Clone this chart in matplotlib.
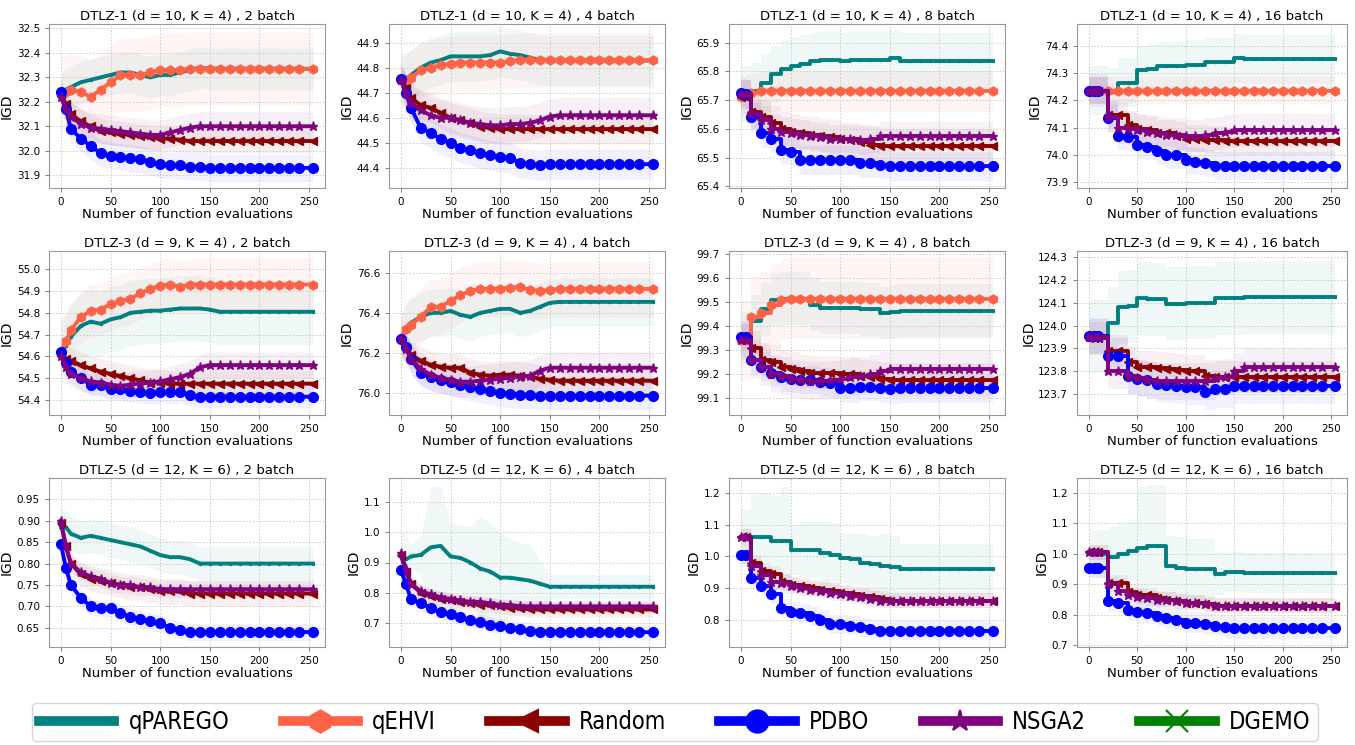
import matplotlib.pyplot as plt
from matplotlib.lines import Line2D
from matplotlib.ticker import FormatStrFormatter
import numpy as np

# x grid (number of function evaluations)
EVALS = [0, 5, 10, 20, 30, 40, 50, 60, 70, 80, 90, 100, 110, 120, 130,
         140, 150, 160, 170, 180, 190, 200, 210, 220, 230, 240, 254]

METHODS = ['qPAREGO', 'qEHVI', 'Random', 'PDBO', 'NSGA2', 'DGEMO']
COLORS = {'qPAREGO': '#008080', 'qEHVI': '#FF6347', 'Random': '#8B0000',
          'PDBO': '#0000FF', 'NSGA2': '#800080', 'DGEMO': '#008000'}
MARKERS = {'qPAREGO': '.', 'qEHVI': 'h', 'Random': '<', 'PDBO': 'o',
           'NSGA2': '*', 'DGEMO': 'x'}

# ---- DTLZ-1 (d = 10, K = 4) ----
DTLZ1_B2 = dict(
    qPAREGO=[32.23, 32.25, 32.26, 32.28, 32.29, 32.30, 32.31, 32.32, 32.32, 32.31, 32.30, 32.31, 32.31, 32.32,
             32.33, 32.34, 32.335, 32.335, 32.335, 32.335, 32.335, 32.335, 32.335, 32.335, 32.335, 32.335, 32.335],
    qEHVI=[32.23, 32.24, 32.25, 32.24, 32.22, 32.25, 32.28, 32.31, 32.31, 32.31, 32.32, 32.33, 32.33, 32.33,
           32.335, 32.335, 32.335, 32.335, 32.335, 32.335, 32.335, 32.335, 32.335, 32.335, 32.335, 32.335, 32.335],
    Random=[32.23, 32.19, 32.15, 32.12, 32.10, 32.08, 32.075, 32.07, 32.065, 32.06, 32.055, 32.05, 32.05, 32.045,
            32.04, 32.04, 32.04, 32.04, 32.04, 32.04, 32.04, 32.04, 32.04, 32.04, 32.04, 32.04, 32.04],
    PDBO=[32.24, 32.17, 32.09, 32.05, 32.02, 31.99, 31.98, 31.975, 31.97, 31.965, 31.955, 31.945, 31.94, 31.94,
          31.935, 31.935, 31.93, 31.93, 31.93, 31.93, 31.93, 31.93, 31.93, 31.93, 31.93, 31.93, 31.93],
    NSGA2=[32.22, 32.17, 32.14, 32.11, 32.095, 32.09, 32.085, 32.08, 32.075, 32.07, 32.065, 32.065, 32.075, 32.085,
           32.095, 32.10, 32.10, 32.10, 32.10, 32.10, 32.10, 32.10, 32.10, 32.10, 32.10, 32.10, 32.10],
)
DTLZ1_B2_STD = dict(qPAREGO=0.085, qEHVI=0.15, Random=0.05, PDBO=0.055, NSGA2=0.06)

DTLZ1_B4 = dict(
    qPAREGO=[44.75, 44.75, 44.77, 44.80, 44.82, 44.83, 44.845, 44.845, 44.845, 44.845, 44.85, 44.865, 44.855, 44.85,
             44.84, 44.83, 44.828, 44.828, 44.828, 44.828, 44.828, 44.828, 44.828, 44.828, 44.828, 44.828, 44.828],
    qEHVI=[44.75, 44.75, 44.76, 44.79, 44.80, 44.81, 44.815, 44.82, 44.82, 44.82, 44.82, 44.82, 44.825, 44.83,
           44.83, 44.83, 44.83, 44.83, 44.83, 44.83, 44.83, 44.83, 44.83, 44.83, 44.83, 44.83, 44.83],
    Random=[44.75, 44.72, 44.68, 44.65, 44.64, 44.62, 44.60, 44.59, 44.58, 44.565, 44.56, 44.555, 44.555, 44.555,
            44.555, 44.555, 44.555, 44.555, 44.555, 44.555, 44.555, 44.555, 44.555, 44.555, 44.555, 44.555, 44.555],
    PDBO=[44.755, 44.70, 44.64, 44.56, 44.54, 44.515, 44.50, 44.48, 44.47, 44.46, 44.45, 44.445, 44.44, 44.42,
          44.415, 44.41, 44.415, 44.415, 44.415, 44.415, 44.415, 44.415, 44.415, 44.415, 44.415, 44.415, 44.415],
    NSGA2=[44.75, 44.70, 44.66, 44.63, 44.61, 44.60, 44.60, 44.59, 44.58, 44.575, 44.57, 44.57, 44.575, 44.575,
           44.58, 44.59, 44.605, 44.61, 44.61, 44.61, 44.61, 44.61, 44.61, 44.61, 44.61, 44.61, 44.61],
)
DTLZ1_B4_STD = dict(qPAREGO=0.10, qEHVI=0.11, Random=0.06, PDBO=0.06, NSGA2=0.07)

DTLZ1_B8 = dict(
    qPAREGO=[65.72, 65.72, 65.73, 65.76, 65.79, 65.81, 65.82, 65.825, 65.835, 65.84, 65.84, 65.835, 65.84, 65.84,
             65.84, 65.84, 65.845, 65.835, 65.835, 65.835, 65.835, 65.835, 65.835, 65.835, 65.835, 65.835, 65.835],
    qEHVI=[65.71, 65.72, 65.725, 65.73, 65.73, 65.73, 65.73, 65.73, 65.73, 65.73, 65.73, 65.73, 65.73, 65.73,
           65.73, 65.73, 65.73, 65.73, 65.73, 65.73, 65.73, 65.73, 65.73, 65.73, 65.73, 65.73, 65.73],
    Random=[65.71, 65.71, 65.66, 65.64, 65.62, 65.60, 65.59, 65.585, 65.58, 65.575, 65.57, 65.565, 65.56, 65.555,
            65.545, 65.54, 65.54, 65.54, 65.54, 65.54, 65.54, 65.54, 65.54, 65.54, 65.54, 65.54, 65.54],
    PDBO=[65.725, 65.72, 65.64, 65.585, 65.565, 65.525, 65.52, 65.49, 65.49, 65.49, 65.49, 65.49, 65.49, 65.48,
          65.48, 65.475, 65.47, 65.47, 65.47, 65.47, 65.47, 65.47, 65.47, 65.47, 65.47, 65.47, 65.47],
    NSGA2=[65.72, 65.72, 65.65, 65.63, 65.60, 65.59, 65.585, 65.58, 65.575, 65.57, 65.565, 65.565, 65.565, 65.56,
           65.565, 65.575, 65.575, 65.575, 65.575, 65.575, 65.575, 65.575, 65.575, 65.575, 65.575, 65.575, 65.575],
)
DTLZ1_B8_STD = dict(qPAREGO=0.10, qEHVI=0.07, Random=0.06, PDBO=0.05, NSGA2=0.05)

DTLZ1_B16 = dict(
    qPAREGO=[74.235, 74.235, 74.235, 74.23, 74.265, 74.265, 74.31, 74.315, 74.325, 74.325, 74.325, 74.33, 74.33,
             74.34, 74.34, 74.34, 74.355, 74.35, 74.35, 74.35, 74.35, 74.35, 74.35, 74.35, 74.35, 74.35, 74.35],
    qEHVI=[74.235, 74.235, 74.235, 74.235, 74.235, 74.235, 74.235, 74.235, 74.235, 74.235, 74.235, 74.235, 74.235,
           74.235, 74.235, 74.235, 74.235, 74.235, 74.235, 74.235, 74.235, 74.235, 74.235, 74.235, 74.235, 74.235,
           74.235],
    Random=[74.235, 74.235, 74.235, 74.145, 74.145, 74.11, 74.095, 74.09, 74.08, 74.08, 74.07, 74.06, 74.06, 74.055,
            74.055, 74.05, 74.05, 74.05, 74.05, 74.05, 74.05, 74.05, 74.05, 74.05, 74.05, 74.05, 74.05],
    PDBO=[74.235, 74.235, 74.235, 74.135, 74.07, 74.065, 74.035, 74.03, 74.015, 74.00, 74.00, 73.98, 73.975, 73.97,
          73.96, 73.96, 73.96, 73.96, 73.96, 73.96, 73.96, 73.96, 73.96, 73.96, 73.96, 73.96, 73.96],
    NSGA2=[74.235, 74.235, 74.235, 74.14, 74.10, 74.095, 74.09, 74.085, 74.08, 74.075, 74.075, 74.07, 74.07, 74.075,
           74.08, 74.085, 74.09, 74.09, 74.09, 74.09, 74.09, 74.09, 74.09, 74.09, 74.09, 74.09, 74.09],
)
DTLZ1_B16_STD = dict(qPAREGO=0.09, qEHVI=0.05, Random=0.05, PDBO=0.05, NSGA2=0.06)

# ---- DTLZ-3 (d = 9, K = 4) ----
DTLZ3_B2 = dict(
    qPAREGO=[54.62, 54.65, 54.69, 54.74, 54.76, 54.75, 54.77, 54.78, 54.80, 54.805, 54.81, 54.81, 54.815, 54.82,
             54.82, 54.82, 54.815, 54.805, 54.805, 54.805, 54.805, 54.805, 54.805, 54.805, 54.805, 54.805, 54.805],
    qEHVI=[54.62, 54.67, 54.72, 54.78, 54.81, 54.815, 54.84, 54.855, 54.865, 54.89, 54.91, 54.925, 54.93, 54.92,
           54.93, 54.93, 54.93, 54.93, 54.93, 54.93, 54.93, 54.93, 54.93, 54.93, 54.93, 54.93, 54.93],
    Random=[54.60, 54.59, 54.58, 54.56, 54.545, 54.53, 54.52, 54.51, 54.50, 54.49, 54.48, 54.48, 54.475, 54.475,
            54.475, 54.475, 54.475, 54.475, 54.475, 54.475, 54.475, 54.475, 54.475, 54.475, 54.475, 54.475, 54.475],
    PDBO=[54.62, 54.57, 54.53, 54.50, 54.47, 54.47, 54.45, 54.45, 54.44, 54.435, 54.43, 54.435, 54.435, 54.435,
          54.425, 54.415, 54.415, 54.415, 54.415, 54.415, 54.415, 54.415, 54.415, 54.415, 54.415, 54.415, 54.415],
    NSGA2=[54.60, 54.55, 54.52, 54.50, 54.485, 54.48, 54.47, 54.465, 54.47, 54.475, 54.48, 54.485, 54.495, 54.505,
           54.52, 54.55, 54.56, 54.56, 54.56, 54.56, 54.56, 54.56, 54.56, 54.56, 54.56, 54.56, 54.56],
)
DTLZ3_B2_STD = dict(qPAREGO=0.15, qEHVI=0.12, Random=0.06, PDBO=0.05, NSGA2=0.06)

DTLZ3_B4 = dict(
    qPAREGO=[76.27, 76.32, 76.35, 76.38, 76.40, 76.40, 76.41, 76.39, 76.38, 76.40, 76.41, 76.42, 76.42, 76.40,
             76.41, 76.43, 76.45, 76.455, 76.455, 76.455, 76.455, 76.455, 76.455, 76.455, 76.455, 76.455, 76.455],
    qEHVI=[76.27, 76.32, 76.34, 76.38, 76.43, 76.43, 76.46, 76.49, 76.51, 76.52, 76.52, 76.52, 76.525, 76.53,
           76.515, 76.51, 76.515, 76.52, 76.52, 76.52, 76.52, 76.52, 76.52, 76.52, 76.52, 76.52, 76.52],
    Random=[76.26, 76.22, 76.19, 76.16, 76.14, 76.13, 76.125, 76.125, 76.10, 76.09, 76.085, 76.09, 76.09, 76.085,
            76.08, 76.07, 76.065, 76.06, 76.06, 76.06, 76.06, 76.06, 76.06, 76.06, 76.06, 76.06, 76.06],
    PDBO=[76.27, 76.23, 76.17, 76.10, 76.08, 76.065, 76.055, 76.04, 76.03, 76.02, 76.01, 76.00, 75.995, 75.99,
          75.99, 75.985, 75.985, 75.985, 75.985, 75.985, 75.985, 75.985, 75.985, 75.985, 75.985, 75.985, 75.985],
    NSGA2=[76.27, 76.22, 76.17, 76.12, 76.09, 76.075, 76.065, 76.055, 76.055, 76.06, 76.065, 76.07, 76.075, 76.08,
           76.085, 76.11, 76.125, 76.125, 76.125, 76.125, 76.125, 76.125, 76.125, 76.125, 76.125, 76.125, 76.125],
)
DTLZ3_B4_STD = dict(qPAREGO=0.12, qEHVI=0.14, Random=0.07, PDBO=0.07, NSGA2=0.08)

DTLZ3_B8 = dict(
    qPAREGO=[99.35, 99.35, 99.42, 99.47, 99.51, 99.515, 99.515, 99.515, 99.49, 99.475, 99.475, 99.475, 99.475,
             99.47, 99.47, 99.455, 99.46, 99.465, 99.465, 99.465, 99.465, 99.465, 99.465, 99.465, 99.465, 99.465,
             99.465],
    qEHVI=[99.34, 99.34, 99.44, 99.455, 99.49, 99.51, 99.515, 99.515, 99.515, 99.515, 99.515, 99.515, 99.515,
           99.515, 99.515, 99.515, 99.515, 99.515, 99.515, 99.515, 99.515, 99.515, 99.515, 99.515, 99.515, 99.515,
           99.515],
    Random=[99.34, 99.34, 99.31, 99.26, 99.25, 99.23, 99.22, 99.21, 99.205, 99.205, 99.205, 99.20, 99.20, 99.19,
            99.185, 99.18, 99.175, 99.175, 99.175, 99.175, 99.175, 99.175, 99.175, 99.175, 99.175, 99.175, 99.175],
    PDBO=[99.355, 99.355, 99.26, 99.23, 99.205, 99.185, 99.18, 99.175, 99.175, 99.165, 99.16, 99.14, 99.14, 99.145,
          99.145, 99.14, 99.135, 99.14, 99.14, 99.14, 99.14, 99.14, 99.14, 99.14, 99.14, 99.14, 99.14],
    NSGA2=[99.34, 99.34, 99.26, 99.23, 99.20, 99.19, 99.18, 99.175, 99.17, 99.17, 99.175, 99.18, 99.185, 99.19,
           99.20, 99.21, 99.22, 99.22, 99.22, 99.22, 99.22, 99.22, 99.22, 99.22, 99.22, 99.22, 99.22],
)
DTLZ3_B8_STD = dict(qPAREGO=0.11, qEHVI=0.17, Random=0.07, PDBO=0.06, NSGA2=0.08)

DTLZ3_B16 = dict(
    qPAREGO=[123.95, 123.95, 123.95, 124.01, 124.08, 124.085, 124.12, 124.115, 124.115, 124.095, 124.095, 124.10,
             124.10, 124.10, 124.12, 124.12, 124.12, 124.125, 124.125, 124.125, 124.125, 124.125, 124.125, 124.125,
             124.125, 124.125, 124.125],
    Random=[123.945, 123.945, 123.945, 123.89, 123.89, 123.84, 123.82, 123.82, 123.815, 123.81, 123.805, 123.80,
            123.80, 123.78, 123.775, 123.775, 123.775, 123.775, 123.775, 123.775, 123.775, 123.775, 123.775, 123.775,
            123.775, 123.775, 123.775],
    PDBO=[123.955, 123.955, 123.955, 123.865, 123.865, 123.78, 123.765, 123.76, 123.745, 123.74, 123.735, 123.73,
          123.73, 123.71, 123.72, 123.72, 123.735, 123.735, 123.735, 123.735, 123.735, 123.735, 123.735, 123.735,
          123.735, 123.735, 123.735],
    NSGA2=[123.95, 123.95, 123.95, 123.80, 123.80, 123.78, 123.77, 123.76, 123.755, 123.755, 123.755, 123.755,
           123.755, 123.755, 123.77, 123.775, 123.80, 123.82, 123.82, 123.82, 123.82, 123.82, 123.82, 123.82, 123.82,
           123.82, 123.82],
)
DTLZ3_B16_STD = dict(qPAREGO=0.16, Random=0.07, PDBO=0.08, NSGA2=0.08)

# ---- DTLZ-5 (d = 12, K = 6) ----
DTLZ5_B2 = dict(
    qPAREGO=[0.885, 0.885, 0.87, 0.86, 0.865, 0.86, 0.855, 0.85, 0.845, 0.84, 0.83, 0.82, 0.815, 0.815, 0.81,
             0.80, 0.80, 0.80, 0.80, 0.80, 0.80, 0.80, 0.80, 0.80, 0.80, 0.80, 0.80],
    Random=[0.895, 0.84, 0.80, 0.775, 0.765, 0.76, 0.755, 0.75, 0.745, 0.745, 0.74, 0.735, 0.735, 0.735, 0.73,
            0.73, 0.73, 0.73, 0.73, 0.73, 0.73, 0.73, 0.73, 0.73, 0.73, 0.73, 0.73],
    PDBO=[0.845, 0.79, 0.75, 0.72, 0.70, 0.695, 0.695, 0.685, 0.675, 0.67, 0.665, 0.66, 0.65, 0.645, 0.64,
          0.64, 0.64, 0.64, 0.64, 0.64, 0.64, 0.64, 0.64, 0.64, 0.64, 0.64, 0.64],
    NSGA2=[0.90, 0.84, 0.80, 0.78, 0.77, 0.765, 0.755, 0.75, 0.75, 0.745, 0.745, 0.74, 0.74, 0.74, 0.74,
           0.74, 0.74, 0.74, 0.74, 0.74, 0.74, 0.74, 0.74, 0.74, 0.74, 0.74, 0.74],
)
DTLZ5_B2_STD = dict(qPAREGO=0.04, Random=0.03, PDBO=0.02, NSGA2=0.02)

DTLZ5_B4 = dict(
    qPAREGO=[0.92, 0.91, 0.92, 0.925, 0.95, 0.955, 0.92, 0.915, 0.90, 0.88, 0.87, 0.85, 0.85, 0.845, 0.84,
             0.83, 0.82, 0.82, 0.82, 0.82, 0.82, 0.82, 0.82, 0.82, 0.82, 0.82, 0.82],
    Random=[0.925, 0.87, 0.83, 0.80, 0.79, 0.78, 0.775, 0.77, 0.765, 0.76, 0.76, 0.755, 0.75, 0.75, 0.745,
            0.745, 0.745, 0.745, 0.745, 0.745, 0.745, 0.745, 0.745, 0.745, 0.745, 0.745, 0.745],
    PDBO=[0.875, 0.83, 0.78, 0.765, 0.75, 0.735, 0.73, 0.72, 0.71, 0.705, 0.695, 0.69, 0.685, 0.68, 0.675,
          0.67, 0.67, 0.67, 0.67, 0.67, 0.67, 0.67, 0.67, 0.67, 0.67, 0.67, 0.67],
    NSGA2=[0.93, 0.88, 0.83, 0.805, 0.795, 0.785, 0.78, 0.775, 0.77, 0.77, 0.765, 0.76, 0.76, 0.755, 0.755,
           0.755, 0.755, 0.755, 0.755, 0.755, 0.755, 0.755, 0.755, 0.755, 0.755, 0.755, 0.755],
)
DTLZ5_B4_STD = dict(
    qPAREGO=[0.08, 0.08, 0.04, 0.06, 0.20, 0.20, 0.11, 0.11, 0.12, 0.17, 0.16, 0.15, 0.13, 0.12, 0.12,
             0.08, 0.04, 0.04, 0.04, 0.04, 0.04, 0.04, 0.04, 0.04, 0.04, 0.04, 0.04],
    Random=0.025, PDBO=0.025, NSGA2=0.02)

DTLZ5_B8 = dict(
    qPAREGO=[1.06, 1.06, 1.06, 1.06, 1.05, 1.05, 1.02, 1.02, 1.02, 1.01, 1.005, 0.995, 0.99, 0.98, 0.975,
             0.97, 0.965, 0.96, 0.96, 0.96, 0.96, 0.96, 0.96, 0.96, 0.96, 0.96, 0.96],
    Random=[1.06, 1.06, 0.98, 0.955, 0.945, 0.92, 0.91, 0.905, 0.90, 0.895, 0.89, 0.885, 0.88, 0.875, 0.87,
            0.865, 0.86, 0.86, 0.86, 0.86, 0.86, 0.86, 0.86, 0.86, 0.86, 0.86, 0.86],
    PDBO=[1.005, 1.005, 0.93, 0.905, 0.88, 0.835, 0.825, 0.82, 0.81, 0.80, 0.785, 0.785, 0.78, 0.775, 0.77,
          0.765, 0.765, 0.765, 0.765, 0.765, 0.765, 0.765, 0.765, 0.765, 0.765, 0.765, 0.765],
    NSGA2=[1.06, 1.06, 0.97, 0.94, 0.92, 0.915, 0.905, 0.90, 0.895, 0.89, 0.885, 0.88, 0.875, 0.87, 0.865,
           0.86, 0.86, 0.86, 0.86, 0.86, 0.86, 0.86, 0.86, 0.86, 0.86, 0.86, 0.86],
)
DTLZ5_B8_STD = dict(
    qPAREGO=[0.09, 0.09, 0.14, 0.14, 0.14, 0.17, 0.08, 0.09, 0.09, 0.10, 0.10, 0.08, 0.08, 0.09, 0.09,
             0.10, 0.10, 0.08, 0.08, 0.08, 0.08, 0.08, 0.08, 0.08, 0.08, 0.08, 0.08],
    Random=0.025, PDBO=0.03, NSGA2=0.025)

DTLZ5_B16 = dict(
    qPAREGO=[1.0, 1.0, 1.0, 0.99, 1.0, 1.01, 1.02, 1.025, 1.025, 0.96, 0.955, 0.95, 0.95, 0.95, 0.935,
             0.94, 0.94, 0.937, 0.937, 0.937, 0.937, 0.937, 0.937, 0.937, 0.937, 0.937, 0.937],
    Random=[1.005, 1.005, 1.005, 0.905, 0.905, 0.875, 0.865, 0.865, 0.855, 0.85, 0.845, 0.84, 0.84, 0.835, 0.83,
            0.83, 0.83, 0.83, 0.83, 0.83, 0.83, 0.83, 0.83, 0.83, 0.83, 0.83, 0.83],
    PDBO=[0.955, 0.955, 0.955, 0.845, 0.84, 0.815, 0.81, 0.805, 0.795, 0.79, 0.785, 0.775, 0.775, 0.77, 0.765,
          0.76, 0.757, 0.757, 0.757, 0.757, 0.757, 0.757, 0.757, 0.757, 0.757, 0.757, 0.757],
    NSGA2=[1.005, 1.005, 1.005, 0.90, 0.88, 0.865, 0.86, 0.855, 0.85, 0.85, 0.845, 0.84, 0.84, 0.835, 0.83,
           0.83, 0.83, 0.83, 0.83, 0.83, 0.83, 0.83, 0.83, 0.83, 0.83, 0.83, 0.83],
)
DTLZ5_B16_STD = dict(
    qPAREGO=[0.08, 0.08, 0.08, 0.10, 0.10, 0.10, 0.20, 0.20, 0.20, 0.10, 0.10, 0.10, 0.10, 0.10, 0.07,
             0.065, 0.065, 0.065, 0.065, 0.065, 0.065, 0.065, 0.065, 0.065, 0.065, 0.065, 0.065],
    Random=0.025, PDBO=0.035, NSGA2=0.025)

# (title, means, stds, ylim, yticks, tick format, step drawing)
panels = [
    ('DTLZ-1 (d = 10, K = 4) , 2 batch', DTLZ1_B2, DTLZ1_B2_STD, (31.848, 32.518), np.arange(31.9, 32.51, 0.1), '%.1f', False),
    ('DTLZ-1 (d = 10, K = 4) , 4 batch', DTLZ1_B4, DTLZ1_B4_STD, (44.32, 44.974), np.arange(44.4, 44.91, 0.1), '%.1f', False),
    ('DTLZ-1 (d = 10, K = 4) , 8 batch', DTLZ1_B8, DTLZ1_B8_STD, (65.394, 65.965), np.arange(65.4, 65.91, 0.1), '%.1f', True),
    ('DTLZ-1 (d = 10, K = 4) , 16 batch', DTLZ1_B16, DTLZ1_B16_STD, (73.879, 74.48), np.arange(73.9, 74.41, 0.1), '%.1f', True),
    ('DTLZ-3 (d = 9, K = 4) , 2 batch', DTLZ3_B2, DTLZ3_B2_STD, (54.331, 55.084), np.arange(54.4, 55.01, 0.1), '%.1f', False),
    ('DTLZ-3 (d = 9, K = 4) , 4 batch', DTLZ3_B4, DTLZ3_B4_STD, (75.888, 76.71), np.arange(76.0, 76.61, 0.2), '%.1f', False),
    ('DTLZ-3 (d = 9, K = 4) , 8 batch', DTLZ3_B8, DTLZ3_B8_STD, (99.028, 99.714), np.arange(99.1, 99.71, 0.1), '%.1f', True),
    ('DTLZ-3 (d = 9, K = 4) , 16 batch', DTLZ3_B16, DTLZ3_B16_STD, (123.608, 124.327), np.arange(123.7, 124.31, 0.1), '%.1f', True),
    ('DTLZ-5 (d = 12, K = 6) , 2 batch', DTLZ5_B2, DTLZ5_B2_STD, (0.605, 1.0), np.arange(0.65, 0.951, 0.05), '%.2f', False),
    ('DTLZ-5 (d = 12, K = 6) , 4 batch', DTLZ5_B4, DTLZ5_B4_STD, (0.621, 1.179), np.arange(0.7, 1.11, 0.1), '%.1f', False),
    ('DTLZ-5 (d = 12, K = 6) , 8 batch', DTLZ5_B8, DTLZ5_B8_STD, (0.713, 1.248), np.arange(0.8, 1.21, 0.1), '%.1f', True),
    ('DTLZ-5 (d = 12, K = 6) , 16 batch', DTLZ5_B16, DTLZ5_B16_STD, (0.695, 1.249), np.arange(0.7, 1.21, 0.1), '%.1f', True),
]

W, H = 1355, 745
fig = plt.figure(figsize=(W / 100, H / 100), dpi=100)

col_left = [49, 389, 729, 1077]
col_width = [276, 276, 276, 270]
row_top = [24, 251, 478]
row_height = [164, 164, 169]

marker_size = {'qPAREGO': 3, 'qEHVI': 6.5, 'Random': 6, 'PDBO': 7, 'NSGA2': 6.5, 'DGEMO': 6}

for i, (title, means, stds, ylim, yticks, fmt, steps) in enumerate(panels):
    r, c = divmod(i, 4)
    ax = fig.add_axes([col_left[c] / W, 1 - (row_top[r] + row_height[r]) / H,
                       col_width[c] / W, row_height[r] / H])
    x = np.array(EVALS)
    for m in METHODS:
        if m not in means:
            continue
        y = np.array(means[m])
        s = np.array(stds[m]) * np.ones_like(y)
        ax.fill_between(x, y - s, y + s, color=COLORS[m], alpha=0.06, linewidth=0,
                        step='post' if steps else None)
        ax.plot(x, y, color=COLORS[m], lw=2.8, marker=MARKERS[m], markersize=marker_size[m],
                drawstyle='steps-post' if steps else 'default')
    ax.set_ylim(*ylim)
    ax.set_yticks(yticks)
    ax.yaxis.set_major_formatter(FormatStrFormatter(fmt))
    ax.set_xlim(-12, 266)
    ax.set_xticks([0, 50, 100, 150, 200, 250])
    ax.tick_params(labelsize=7.5, length=3, color='#888888')
    ax.grid(True, linestyle=(0, (2, 2)), linewidth=0.6, color='#c8c8c8')
    for sp in ax.spines.values():
        sp.set_color('#999999')
    ax.set_title(title, fontsize=9.5, pad=3)
    ax.set_xlabel('Number of function evaluations', fontsize=9.5, labelpad=1)
    ax.set_ylabel('IGD', fontsize=10, labelpad=2)

handles = []
for m in METHODS:
    ms = 6 if m == 'qPAREGO' else 16
    handles.append(Line2D([], [], color=COLORS[m], lw=7, marker=MARKERS[m], markersize=ms,
                          markeredgewidth=1.5))
fig.legend(handles, METHODS, loc='center', bbox_to_anchor=(0.498, 0.031), ncol=6,
           prop=dict(size=17, stretch='condensed'), handlelength=3.2, handletextpad=0.6,
           columnspacing=2.25, frameon=True, edgecolor='#cccccc', borderpad=0.3)

fig.savefig('out.png', dpi=100)
